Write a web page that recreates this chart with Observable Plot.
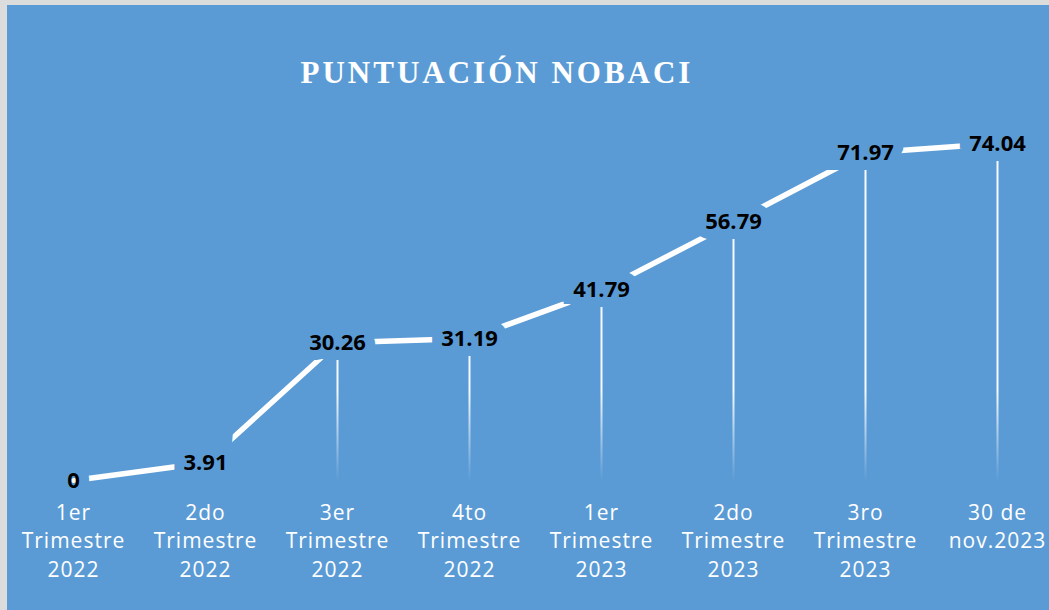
<!DOCTYPE html>
<html>
<head>
<meta charset="utf-8">
<script src="https://cdn.jsdelivr.net/npm/d3@7"></script>
<script src="https://cdn.jsdelivr.net/npm/@observablehq/plot@0.6"></script>
<style>
  html, body { margin: 0; padding: 0; background: #dcdcdc; width: 1049px; height: 610px; overflow: hidden; }
  #frame { position: absolute; left: 7px; top: 5px; width: 1042px; height: 605px; background: #5B9BD5; }
  #title { position: absolute; left: 0; top: 50px; width: 980px; text-align: center;
           font-family: "Liberation Serif", "DejaVu Serif", serif; font-weight: bold; font-size: 31px;
           letter-spacing: 3px; color: #ffffff; }
  #chart { position: absolute; left: 0; top: 0; }
  .xticks text { letter-spacing: 1px; }
</style>
</head>
<body>
<div id="frame">
  <div id="chart"></div>
  <div id="title">PUNTUACIÓN NOBACI</div>
</div>
<script>
const categories = [
  "1er\nTrimestre\n2022",
  "2do\nTrimestre\n2022",
  "3er\nTrimestre\n2022",
  "4to\nTrimestre\n2022",
  "1er\nTrimestre\n2023",
  "2do\nTrimestre\n2023",
  "3ro\nTrimestre\n2023",
  "30 de\nnov.2023"
];
const values = [0, 3.91, 30.26, 31.19, 41.79, 56.79, 71.97, 74.04];
const valueLabels = ["0", "3.91", "30.26", "31.19", "41.79", "56.79", "71.97", "74.04"];

const data = categories.map((c, i) => ({cat: c, value: values[i], label: valueLabels[i]}));
const bg = "#5B9BD5";

const chart = Plot.plot({
  width: 1042,
  height: 605,
  marginLeft: 66,
  marginRight: 52,
  marginTop: 111,
  marginBottom: 130,
  style: {background: "transparent", overflow: "visible"},
  x: {type: "point", domain: categories, padding: 0},
  y: {domain: [0, 80], axis: null},
  marks: [
    () => {
      const ns = "http://www.w3.org/2000/svg";
      const defs = document.createElementNS(ns, "defs");
      const g = document.createElementNS(ns, "linearGradient");
      g.setAttribute("id", "dropFade");
      g.setAttribute("gradientUnits", "userSpaceOnUse");
      g.setAttribute("x1", "0"); g.setAttribute("x2", "0");
      g.setAttribute("y1", "385"); g.setAttribute("y2", "475");
      const s1 = document.createElementNS(ns, "stop");
      s1.setAttribute("offset", "0"); s1.setAttribute("stop-color", "#ffffff"); s1.setAttribute("stop-opacity", "0.95");
      const s2 = document.createElementNS(ns, "stop");
      s2.setAttribute("offset", "1"); s2.setAttribute("stop-color", "#ffffff"); s2.setAttribute("stop-opacity", "0");
      g.appendChild(s1); g.appendChild(s2); defs.appendChild(g);
      return defs;
    },
    Plot.ruleX(data, {x: "cat", y1: 0, y2: "value", stroke: "url(#dropFade)", strokeWidth: 2}),
    Plot.line(data, {x: "cat", y: "value", stroke: "#ffffff", strokeWidth: 5.5}),
    Plot.text(data, {
      x: "cat", y: "value", text: "label",
      fill: "#000000", stroke: bg, strokeWidth: 20, strokeLinejoin: "miter",
      fontSize: 22, fontWeight: "bold", fontFamily: "'Open Sans', sans-serif"
    }),
    Plot.axisX({
      tickSize: 0, tickPadding: 19, fontSize: 21, lineHeight: 1.36,
      fontFamily: "'Open Sans', sans-serif", fill: "#ffffff", color: "#ffffff",
      tickFormat: d => d, label: null, className: "xticks"
    })
  ]
});
document.getElementById("chart").appendChild(chart);
</script>
</body>
</html>
